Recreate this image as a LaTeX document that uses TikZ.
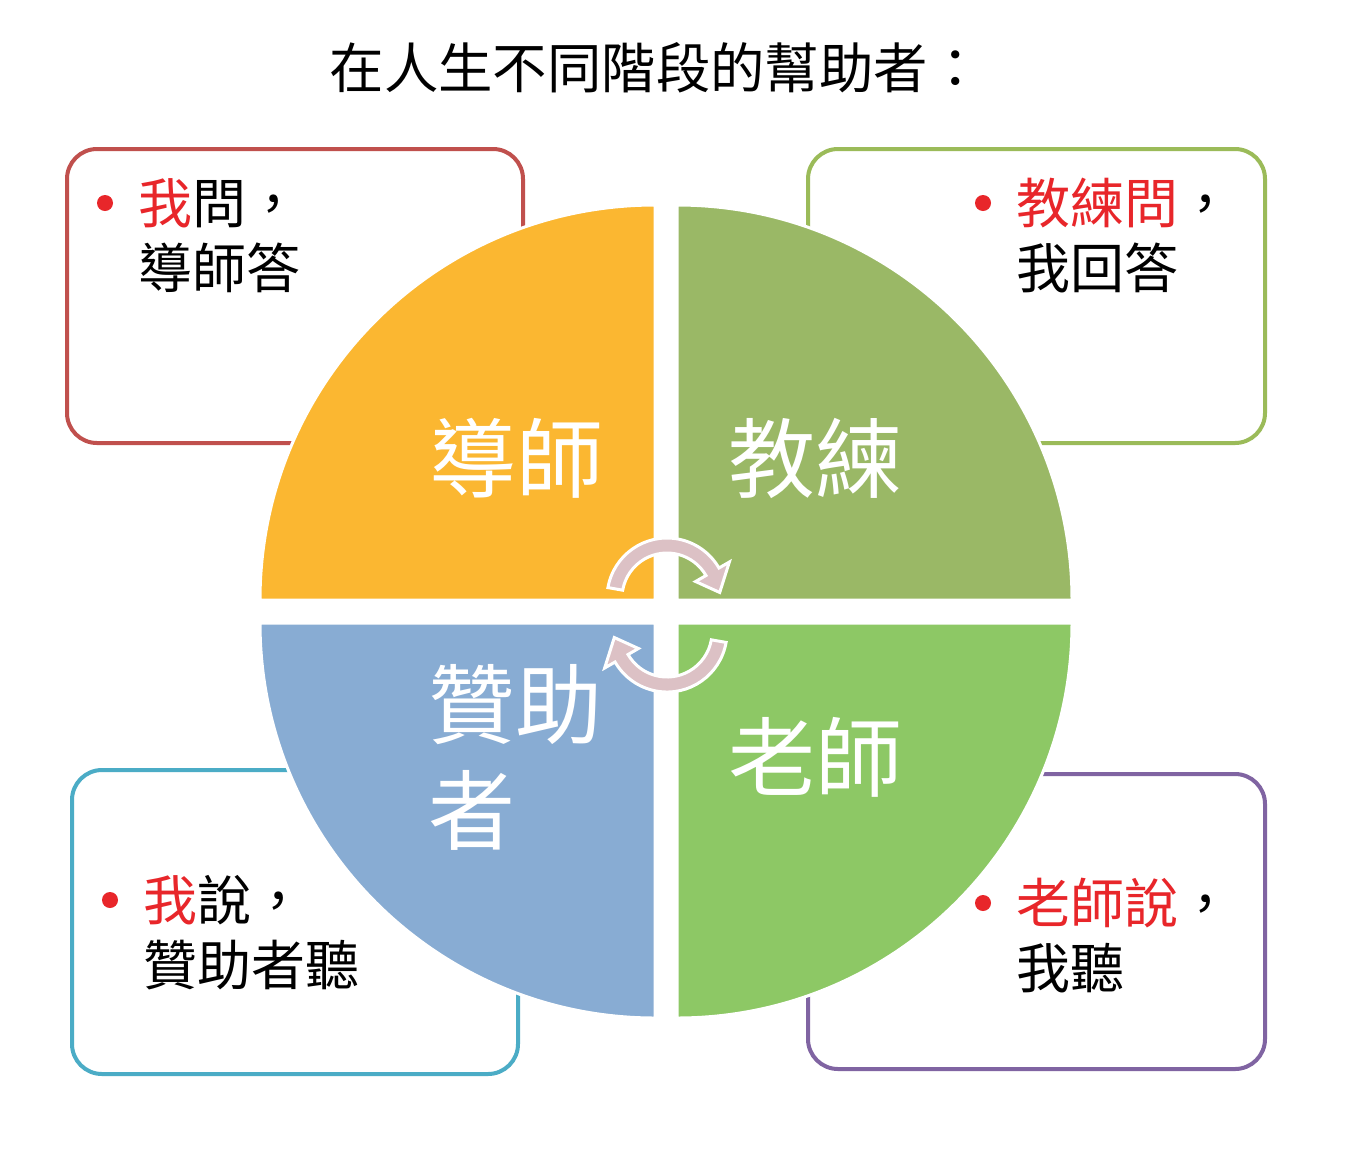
\documentclass[tikz,border=0pt]{standalone}
\usepackage{fontspec}
\setmainfont{Noto Sans CJK TC}
\definecolor{qorange}{HTML}{FBB731}
\definecolor{qolive}{HTML}{9AB866}
\definecolor{qblue}{HTML}{88ACD3}
\definecolor{qgreen}{HTML}{8DC865}
\definecolor{bred}{HTML}{C0504D}
\definecolor{bgreen}{HTML}{9BBB59}
\definecolor{bteal}{HTML}{4BACC6}
\definecolor{bpurple}{HTML}{8064A2}
\definecolor{tred}{HTML}{E8262A}
\definecolor{apink}{HTML}{DCC1C5}
\begin{document}
\begin{tikzpicture}[x=0.5pt,y=-0.5pt,
  boxline/.style={line width=2pt, rounded corners=15pt, fill=white},
  quad/.style={draw=white, line width=1.5pt},
  qlabel/.style={text=white, inner sep=0pt, font=\fontsize{43.5pt}{48pt}\selectfont},
  btext/.style={inner sep=0pt, anchor=west, font=\fontsize{27pt}{31pt}\selectfont},
  bullet/.style={circle, fill=tred, inner sep=0pt, minimum size=8pt},
  cyc/.style={fill=apink, draw=white, line width=1.5pt, line join=miter}]
\useasboundingbox (0,0) rectangle (1369,1168);
\fill[white] (0,0) rectangle (1369,1168);

% title
\node[inner sep=0pt, font=\fontsize{27.2pt}{31pt}\selectfont] (title) at (656,68) {在人生不同階段的幫助者：};

% boxes
\draw[boxline, draw=bred] (67,149) rectangle (523,443);
\draw[boxline, draw=bgreen] (808,149) rectangle (1265,443);
\draw[boxline, draw=bteal] (72,770) rectangle (518,1074);
\draw[boxline, draw=bpurple] (808,774) rectangle (1265,1069);

% quadrants
\filldraw[quad, fill=qorange] (655,600) -- (260,600) arc[start angle=180, end angle=270, radius=395] -- cycle;
\filldraw[quad, fill=qolive] (677,600) -- (677,205) arc[start angle=270, end angle=360, radius=395] -- cycle;
\filldraw[quad, fill=qgreen] (677,623) -- (1072,623) arc[start angle=0, end angle=90, radius=395] -- cycle;
\filldraw[quad, fill=qblue] (655,623) -- (655,1018) arc[start angle=90, end angle=180, radius=395] -- cycle;

% cycle arrows
\begin{scope}[shift={(667,598)}]
\filldraw[cyc] (190:60) arc[start angle=190, end angle=330, radius=60] -- (330:72) -- (354:53) -- (330:33) -- (330:45) arc[start angle=330, end angle=190, radius=45] -- cycle;
\end{scope}
\begin{scope}[shift={(667,632)}]
\filldraw[cyc] (10:60) arc[start angle=10, end angle=150, radius=60] -- (150:72) -- (174:53) -- (150:33) -- (150:45) arc[start angle=150, end angle=10, radius=45] -- cycle;
\end{scope}

% quadrant labels
\node[qlabel] (q1) at (516,458) {導師};
\node[qlabel] (q2) at (815,458) {教練};
\node[qlabel, anchor=west] (q3a) at (428,705) {贊助};
\node[qlabel, anchor=west] (q3b) at (428,810) {者};
\node[qlabel] (q4) at (815,757) {老師};

% box texts
\node[bullet] (d1) at (105,203) {};
\node[btext] (t1a) at (138,203) {\textcolor{tred}{我}問，};
\node[btext] (t1b) at (138,268) {導師答};

\node[bullet] (d2) at (983,203) {};
\node[btext] (t2a) at (1016,203) {\textcolor{tred}{教練問}，};
\node[btext] (t2b) at (1016,268) {我回答};

\node[bullet] (d3) at (110,900) {};
\node[btext] (t3a) at (143,900) {\textcolor{tred}{我}說，};
\node[btext] (t3b) at (143,965) {贊助者聽};

\node[bullet] (d4) at (983,903) {};
\node[btext] (t4a) at (1016,903) {\textcolor{tred}{老師說}，};
\node[btext] (t4b) at (1016,968) {我聽};
\end{tikzpicture}
\end{document}
